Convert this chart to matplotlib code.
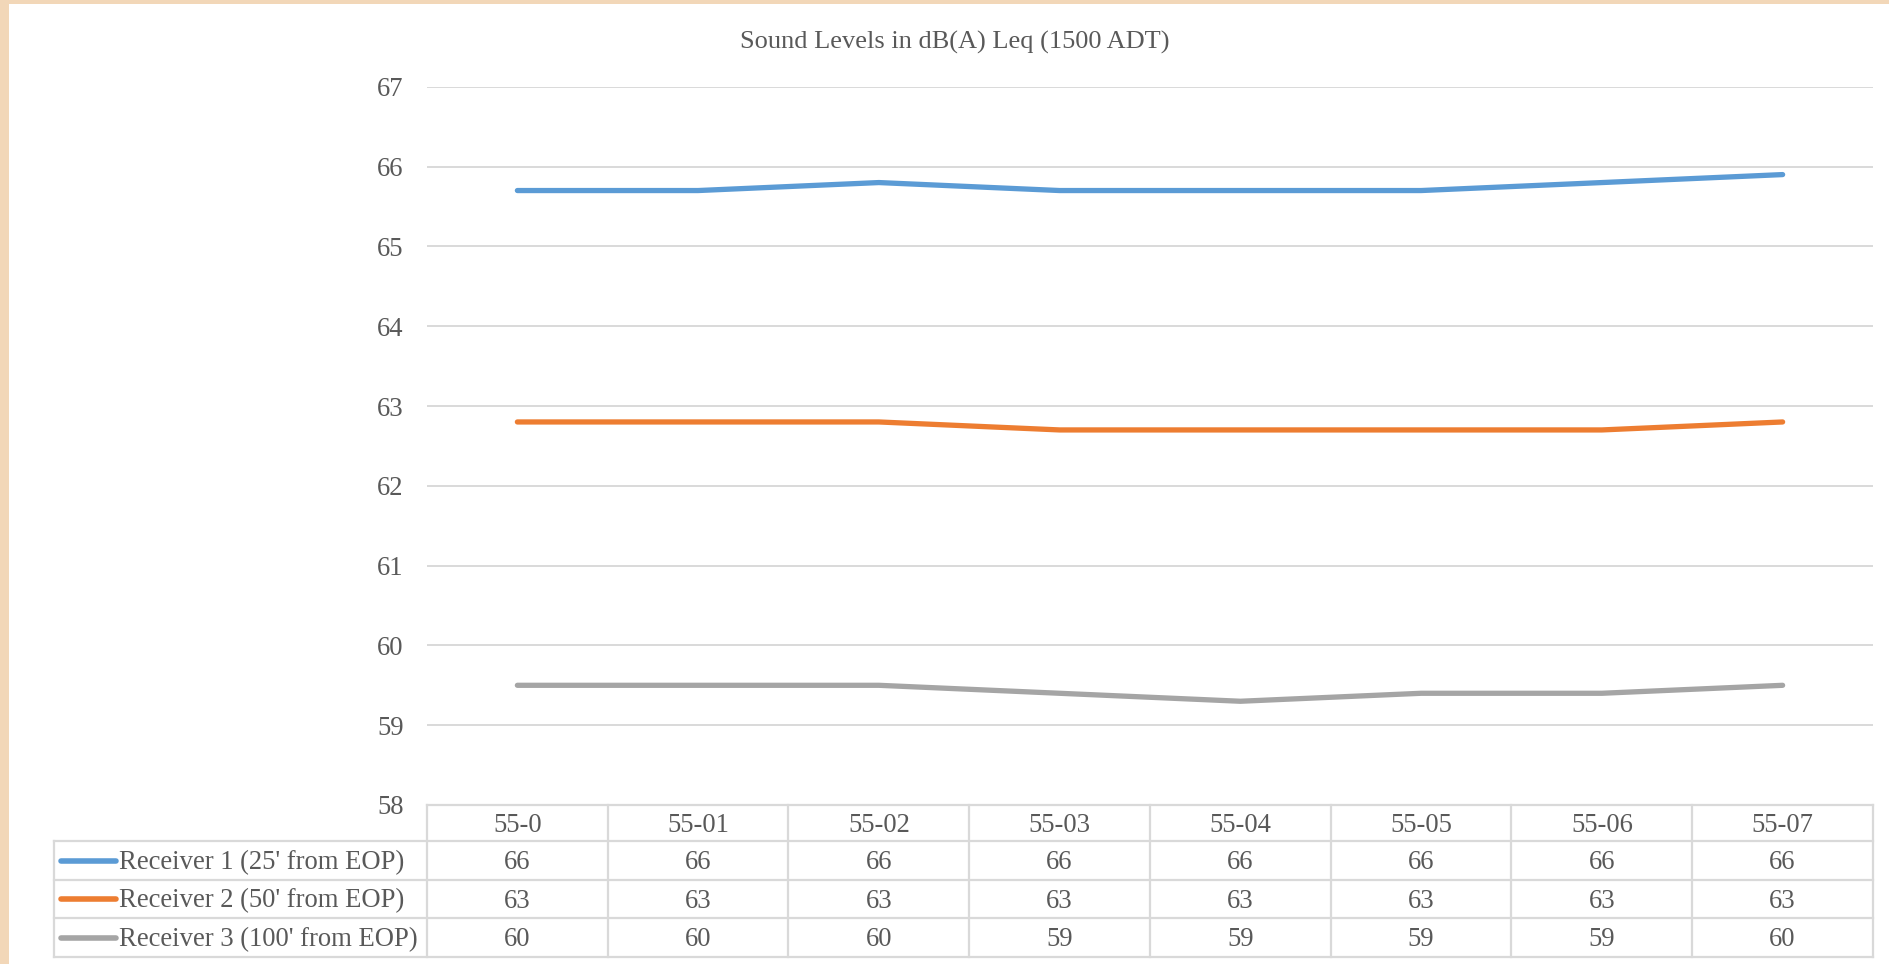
import numpy as np
import matplotlib
matplotlib.use("Agg")
import matplotlib.pyplot as plt
from matplotlib.patches import Rectangle
from matplotlib.lines import Line2D
from matplotlib import transforms

plt.rcParams['font.family'] = ['Liberation Serif', 'DejaVu Serif']

title = "Sound Levels in dB(A) Leq (1500 ADT)"
categories = ["55-0", "55-01", "55-02", "55-03", "55-04", "55-05", "55-06", "55-07"]
series_names = ["Receiver 1 (25' from EOP)", "Receiver 2 (50' from EOP)", "Receiver 3 (100' from EOP)"]
receiver1 = [65.7, 65.7, 65.8, 65.7, 65.7, 65.7, 65.8, 65.9]
receiver2 = [62.8, 62.8, 62.8, 62.7, 62.7, 62.7, 62.7, 62.8]
receiver3 = [59.5, 59.5, 59.5, 59.4, 59.3, 59.4, 59.4, 59.5]
colors = ["#5B9BD5", "#ED7D31", "#A5A5A5"]
y_ticks = [58, 59, 60, 61, 62, 63, 64, 65, 66, 67]

W, H = 1890, 964
fig = plt.figure(figsize=(W / 100, H / 100), dpi=100)
fig.patch.set_facecolor("#F2D7B8")
fig.patches.append(Rectangle((9 / W, 0), 1 - 9 / W, 1 - 4 / H, transform=fig.transFigure,
                             facecolor="white", edgecolor="none", zorder=-10))

def fy(px):
    return 1 - px / H

def fx(px):
    return px / W

left_px, right_px, top_px, bot_px = 427, 1873, 86.8, 805
ax = fig.add_axes([fx(left_px), fy(bot_px), fx(right_px) - fx(left_px), fy(top_px) - fy(bot_px)])
ax.set_zorder(2)
ax.set_facecolor("none")
x = np.arange(len(categories))
series = [receiver1, receiver2, receiver3]
for vals, c in zip(series, colors):
    ax.plot(x, vals, color=c, lw=3.8, solid_capstyle="round", zorder=3)
ax.set_xlim(-0.5, len(categories) - 0.5)
ax.set_ylim(y_ticks[0], y_ticks[-1])
ax.set_yticks(y_ticks)
ax.set_xticks([])
for s in ax.spines.values():
    s.set_visible(False)
ax.yaxis.grid(True, color="#D9D9D9", lw=1.4)
ax.set_axisbelow(True)
ax.tick_params(axis="y", length=0, pad=17, labelsize=19.2, labelcolor="#595959")

fig.text(fx(955), fy(42.5), title, ha="center", va="center", fontsize=19, color="#595959")

# data table
grid_c = "#D9D9D9"
rows_px = [805, 841, 880, 918, 957]
leg_left = 54
bt = transforms.blended_transform_factory(ax.transData, fig.transFigure)
fig.lines.append(Line2D([fx(left_px), fx(right_px)], [fy(rows_px[0])] * 2, transform=fig.transFigure, color=grid_c, lw=1.6))
for r in rows_px[1:]:
    fig.lines.append(Line2D([fx(leg_left), fx(right_px)], [fy(r)] * 2, transform=fig.transFigure, color=grid_c, lw=1.6))
for i in range(len(categories) + 1):
    xv = i - 0.5
    fig.lines.append(Line2D([xv, xv], [fy(rows_px[0]), fy(rows_px[-1])], transform=bt, color=grid_c, lw=1.6))
fig.lines.append(Line2D([fx(leg_left)] * 2, [fy(rows_px[1]), fy(rows_px[-1])], transform=fig.transFigure, color=grid_c, lw=1.6))

tsize = 19.2
tcol = "#595959"
dy = 2
for i, cat in enumerate(categories):
    fig.text(i, fy((rows_px[0] + rows_px[1]) / 2 + dy), cat, transform=bt, ha="center", va="center",
             fontsize=tsize, color=tcol)
for j, (name, vals, c) in enumerate(zip(series_names, series, colors)):
    yl = fy((rows_px[j + 1] + rows_px[j + 2]) / 2)
    yc = fy((rows_px[j + 1] + rows_px[j + 2]) / 2 + dy)
    fig.lines.append(Line2D([fx(61), fx(116)], [yl, yl], transform=fig.transFigure, color=c, lw=4,
                            solid_capstyle="round"))
    fig.text(fx(119), yc, name, ha="left", va="center", fontsize=tsize, color=tcol)
    for i, v in enumerate(vals):
        fig.text(i, yc, "%d" % int(np.floor(v + 0.5)), transform=bt, ha="center", va="center",
                 fontsize=tsize, color=tcol)

fig.savefig("out.png", dpi=100, facecolor=fig.get_facecolor())
